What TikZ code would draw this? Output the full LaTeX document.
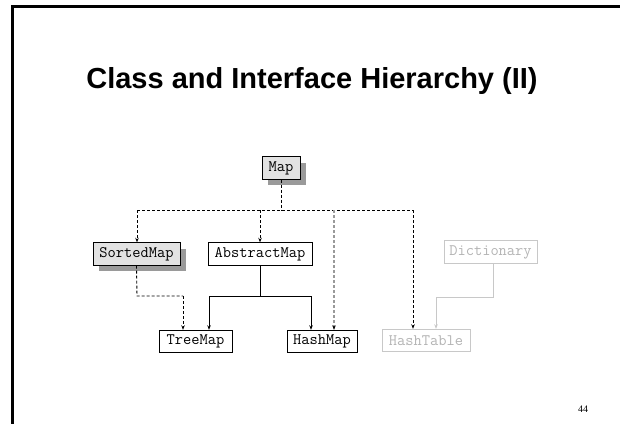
\documentclass[tikz,border=0pt]{standalone}
\usepackage{fontspec}
\setmainfont{Liberation Serif}
\newfontfamily\titlefont{Liberation Sans}
\usetikzlibrary{arrows.meta,shadows}
\definecolor{boxfill}{HTML}{E2E2E2}
\definecolor{shade}{HTML}{9A9A9A}
\definecolor{faint}{HTML}{C8C8C8}
\definecolor{fainttext}{HTML}{B4B4B4}
\tikzset{
  classbox/.style={draw=black, line width=0.9pt, fill=white, rectangle,
    inner sep=0pt, font=\ttfamily\fontsize{16}{17}\selectfont,
    minimum height=22.5pt},
  ifacebox/.style={classbox, fill=boxfill,
    drop shadow={shadow xshift=6pt, shadow yshift=-6pt, fill=shade, opacity=1}},
  legacybox/.style={classbox, draw=faint, text=fainttext},
  impl/.style={line width=0.9pt, dash pattern=on 3pt off 2pt},
  ext/.style={line width=0.9pt},
  tip/.style={-{Stealth[length=4.5pt,width=3.5pt]}},
}
\begin{document}
\begin{tikzpicture}[x=1pt, y=-1pt]
  \useasboundingbox (0,0) rectangle (620,423);
  % slide frame
  \draw[line width=2.6pt, line cap=rect] (620,6.5) -- (12.5,6.5) -- (12.5,425);
  % title and page number
  \node[font=\titlefont\bfseries\fontsize{29}{32}\selectfont, anchor=base]
    (title) at (312,88) {Class and Interface Hierarchy (II)};
  \node[font=\fontsize{10}{12}\selectfont] (page) at (583,409) {44};

  % classes and interfaces
  \node[ifacebox, minimum width=38pt] (map) at (281,168) {Map};
  \node[ifacebox, minimum width=87pt] (sorted) at (136.5,254) {SortedMap};
  \node[classbox, minimum width=104pt] (abstract) at (260,254) {AbstractMap};
  \node[legacybox, minimum width=93pt] (dict) at (490.5,252) {Dictionary};
  \node[classbox, minimum width=73pt] (tree) at (195.5,341.5) {TreeMap};
  \node[classbox, minimum width=70pt] (hash) at (322,341.5) {HashMap};
  \node[legacybox, minimum width=88pt] (table) at (426,340.5) {HashTable};

  % routing points
  \coordinate (busL) at (137,210);
  \coordinate (busA) at (260,210);
  \coordinate (busH) at (334,210);
  \coordinate (busR) at (413,210);
  \coordinate (sortL) at (137,296);
  \coordinate (sortR) at (183,296);
  \coordinate (absL) at (209,296);
  \coordinate (absR) at (311,296);
  \coordinate (dictR) at (493,297);
  \coordinate (dictL) at (436,297);

  % Map is implemented / extended
  \draw[impl] (map.south) -- (map.south |- busL);
  \draw[impl] (busL) -- (busR);
  \draw[impl, tip] (busL) -- (busL |- sorted.north);
  \draw[impl, tip] (busA) -- (abstract.north);
  \draw[impl, tip] (busR) -- (busR |- table.north);
  \draw[impl, draw=shade, line width=1.2pt,
    -{Stealth[length=4.5pt,width=3.5pt,color=black,fill=black,line width=0.5pt]}]
    (busH) -- (busH |- hash.north);

  % SortedMap -> TreeMap
  \draw[impl] (sorted.south) -- (sortL) -- (sortR);
  \draw[impl, tip] (sortR) -- (sortR |- tree.north);

  % AbstractMap -> TreeMap, HashMap
  \draw[ext] (abstract.south) -- (abstract.south |- absL);
  \draw[ext] (absL) -- (absR);
  \draw[ext, tip] (absL) -- (absL |- tree.north);
  \draw[ext, tip] (absR) -- (absR |- hash.north);

  % Dictionary -> HashTable
  \draw[ext, draw=faint] (dictR |- dict.south) -- (dictR) -- (dictL);
  \draw[ext, draw=faint, tip] (dictL) -- (dictL |- table.north);
\end{tikzpicture}
\end{document}
